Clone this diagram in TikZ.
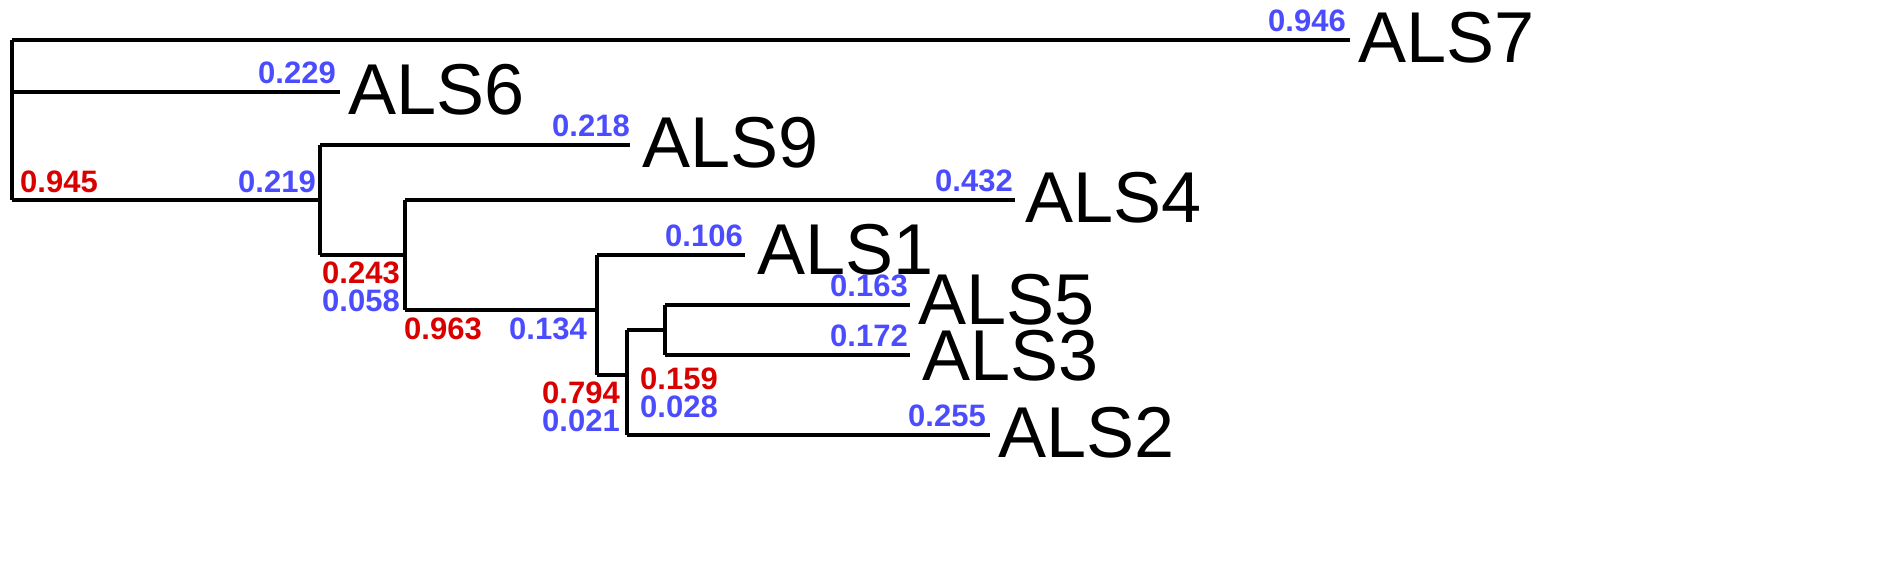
\documentclass[tikz,border=0pt]{standalone}
\usepackage{fontspec}
\setmainfont{Liberation Sans}
\begin{document}
\begin{tikzpicture}[x=1pt,y=-1pt,
  br/.style={line width=3.6pt},
  bl/.style={font=\fontsize{31}{31}\selectfont\bfseries,text=blue!70!white,inner sep=0pt},
  rd/.style={font=\fontsize{31}{31}\selectfont\bfseries,text=red!85!black,inner sep=0pt},
  tx/.style={font=\fontsize{72}{72}\selectfont,inner sep=0pt,anchor=west}]
\useasboundingbox (0,0) rectangle (1901,561);
\coordinate (r1) at (12,40); \coordinate (r2) at (12,200);
\coordinate (a1) at (320,145); \coordinate (a2) at (320,255);
\coordinate (b1) at (405,200); \coordinate (b2) at (405,310);
\coordinate (c1) at (597,255); \coordinate (c2) at (597,375);
\coordinate (d1) at (627,330); \coordinate (d2) at (627,435);
\coordinate (e1) at (665,305); \coordinate (e2) at (665,355);
\coordinate (l7) at (1350,40); \coordinate (l6) at (340,92);
\coordinate (l9) at (630,145); \coordinate (l4) at (1015,200);
\coordinate (l1) at (745,255); \coordinate (l5) at (910,305);
\coordinate (l3) at (910,355); \coordinate (l2) at (990,435);
\draw[br] (r1) -- (r2);
\draw[br] (r1) -- (l7);
\draw[br] (12,92) -- (l6);
\draw[br] (r2) -- (320,200);
\draw[br] (a1) -- (a2);
\draw[br] (a1) -- (l9);
\draw[br] (a2) -- (b1 |- a2);
\draw[br] (b1) -- (b2);
\draw[br] (b1) -- (l4);
\draw[br] (b2) -- (c2 |- b2);
\draw[br] (c1) -- (c2);
\draw[br] (c1) -- (l1);
\draw[br] (c2) -- (d1 |- c2);
\draw[br] (d1) -- (d2);
\draw[br] (d1) -- (e1 |- d1);
\draw[br] (e1) -- (e2);
\draw[br] (e1) -- (l5);
\draw[br] (e2) -- (l3);
\draw[br] (d2) -- (l2);
\node[tx] (n7) at (1358,38) {ALS7};
\node[tx] (n6) at (348,90) {ALS6};
\node[tx] (n9) at (642,143) {ALS9};
\node[tx] (n4) at (1025,198) {ALS4};
\node[tx] (n1) at (757,250) {ALS1};
\node[tx] (n5) at (918,300) {ALS5};
\node[tx] (n3) at (922,356) {ALS3};
\node[tx] (n2) at (998,433) {ALS2};
\node[bl,anchor=south east] at (1346,32) {0.946};
\node[bl,anchor=south east] at (336,84) {0.229};
\node[bl,anchor=south east] at (630,137) {0.218};
\node[bl,anchor=south east] at (1013,192) {0.432};
\node[bl,anchor=south east] at (743,247) {0.106};
\node[bl,anchor=south east] at (908,297) {0.163};
\node[bl,anchor=south east] at (908,347) {0.172};
\node[bl,anchor=south east] at (986,427) {0.255};
\node[rd,anchor=south west] at (20,193) {0.945};
\node[bl,anchor=south east] at (316,193) {0.219};
\node[rd,anchor=north east] at (400,262) {0.243};
\node[bl,anchor=north east] at (400,290) {0.058};
\node[rd,anchor=north east] at (482,318) {0.963};
\node[bl,anchor=north east] at (587,318) {0.134};
\node[rd,anchor=north east] at (620,382) {0.794};
\node[bl,anchor=north east] at (620,410) {0.021};
\node[rd,anchor=north west] at (640,368) {0.159};
\node[bl,anchor=north west] at (640,396) {0.028};
\end{tikzpicture}
\end{document}
